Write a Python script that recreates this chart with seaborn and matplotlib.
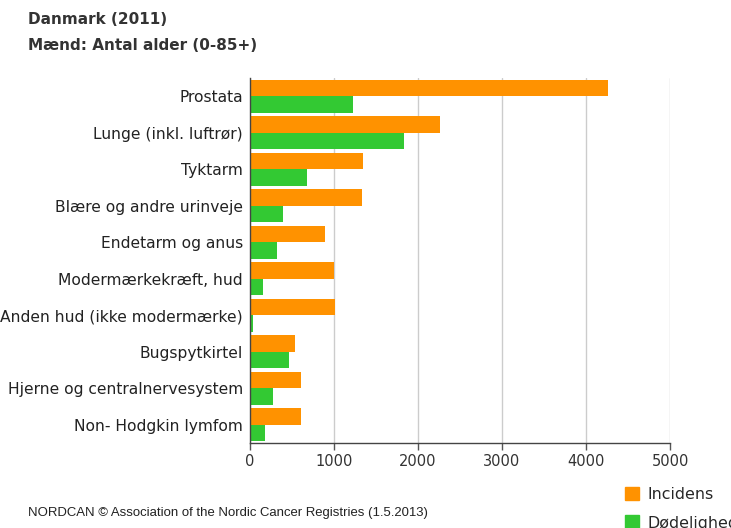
import matplotlib
matplotlib.use("Agg")
import matplotlib.pyplot as plt
import pandas as pd
import seaborn as sns

# cancer sites, men, Denmark 2011
sites = [
    "Prostata",
    "Lunge (inkl. luftrør)",
    "Tyktarm",
    "Blære og andre urinveje",
    "Endetarm og anus",
    "Modermærkekræft, hud",
    "Anden hud (ikke modermærke)",
    "Bugspytkirtel",
    "Hjerne og centralnervesystem",
    "Non- Hodgkin lymfom",
]
incidens = [4265, 2262, 1349, 1337, 893, 1000, 1008, 536, 607, 607]
doedelighed = [1230, 1837, 675, 389, 317, 159, 40, 464, 278, 179]
series = ["Incidens", "Dødelighed"]
colors = ["#FF9200", "#33C933"]
xticks = [0, 1000, 2000, 3000, 4000, 5000]

df = pd.DataFrame({"site": sites * 2,
                   "antal": incidens + doedelighed,
                   "serie": [series[0]] * len(sites) + [series[1]] * len(sites)})

sns.set_theme(style="white")
plt.rcParams["font.family"] = ["DejaVu Sans"]

fig = plt.figure(figsize=(7.31, 5.28), dpi=100)
ax = fig.add_axes([250 / 731, 1 - 443 / 528, 420 / 731, 365 / 528])

sns.barplot(data=df, y="site", x="antal", hue="serie", orient="h",
            palette=colors, order=sites, hue_order=series, width=0.9,
            saturation=1, linewidth=0, ax=ax, legend=False, zorder=2)

ax.set_xlim(0, 5000)
ax.set_xticks(xticks)
ax.set_xticklabels([str(t) for t in xticks], fontsize=10.5, color="#333333")
ax.set_xlabel("")
ax.set_ylabel("")
ax.tick_params(axis="y", length=0, labelsize=11.2, labelcolor="#222222", pad=5)
ax.tick_params(axis="x", length=5, width=1, color="#555555", direction="out", bottom=True, pad=3)
ax.grid(axis="x", color="#cccccc", linewidth=1, zorder=0)
ax.set_axisbelow(True)
for s in ["top", "right"]:
    ax.spines[s].set_visible(False)
for s in ["left", "bottom"]:
    ax.spines[s].set_color("#444444")
    ax.spines[s].set_linewidth(1)
    ax.spines[s].set_zorder(5)

fig.text(28 / 731, 1 - 20 / 528, "Danmark (2011)", fontsize=11, fontweight="bold",
         color="#333333", va="center")
fig.text(28 / 731, 1 - 45 / 528, "Mænd: Antal alder (0-85+)", fontsize=11, fontweight="bold",
         color="#333333", va="center")
fig.text(28 / 731, 1 - 513 / 528, "NORDCAN © Association of the Nordic Cancer Registries (1.5.2013)",
         fontsize=9.45, color="#222222", va="center", family=["Liberation Sans", "DejaVu Sans"])

# the second legend entry runs off the right edge in the original too
handles = [plt.Rectangle((0, 0), 1, 1, color=c) for c in colors]
fig.legend(handles, series, loc="upper left", bbox_to_anchor=(625 / 731, 1 - 487 / 528),
           frameon=False, fontsize=11.4, handlelength=0.9, handleheight=0.9,
           handletextpad=0.5, labelspacing=0.85, borderaxespad=0, borderpad=0)

fig.savefig("out.png", dpi=100)
